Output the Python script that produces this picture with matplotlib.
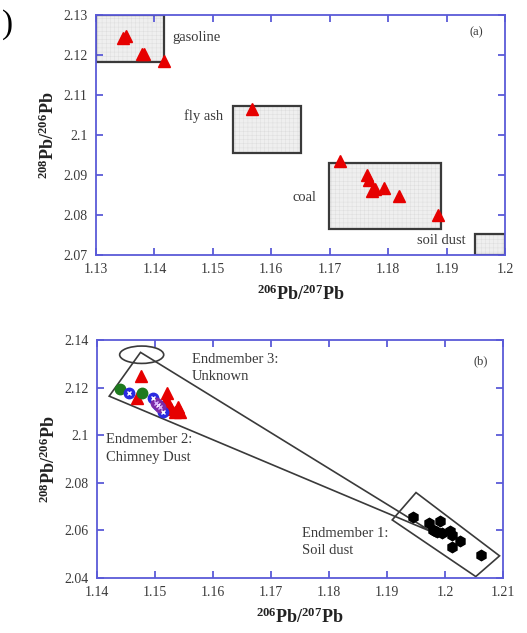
import matplotlib.pyplot as plt
from matplotlib.patches import Rectangle, Polygon, Ellipse
import numpy as np

plt.rcParams['font.family'] = ['Liberation Serif', 'DejaVu Serif']
plt.rcParams['mathtext.fontset'] = 'custom'
plt.rcParams['mathtext.rm'] = 'Liberation Serif'
plt.rcParams['mathtext.bf'] = 'Liberation Serif:bold'
plt.rcParams['hatch.linewidth'] = 0.35

# ---- panel (a): source signatures ----
a_x = [1.1347, 1.1352, 1.1378, 1.1382, 1.1417, 1.1567,
       1.1718, 1.1763, 1.1768, 1.1772, 1.1777, 1.1793, 1.1819, 1.1885]
a_y = [2.1242, 2.1248, 2.1202, 2.1202, 2.1186, 2.1064,
       2.0935, 2.0900, 2.0888, 2.0861, 2.0864, 2.0867, 2.0848, 2.0800]

# source boxes: name, (x0, x1), (y0, y1)
box_names = ['gasoline', 'fly ash', 'coal', 'soil dust']
box_x = [(1.1300, 1.1416), (1.1534, 1.1650), (1.1699, 1.1890), (1.1948, 1.2000)]
box_y = [(2.1183, 2.1300), (2.0954, 2.1073), (2.0766, 2.0931), (2.0700, 2.0752)]

# ---- panel (b): samples ----
green_x = [1.1440, 1.1477]
green_y = [2.1192, 2.1176]
blue_x = [1.1455, 1.1496, 1.1505, 1.1513]
blue_y = [2.1178, 2.1155, 2.1127, 2.1098]
purple_x = [1.1502, 1.1509]
purple_y = [2.1134, 2.1120]
red_x = [1.1475, 1.1469, 1.1520, 1.1519, 1.1523, 1.1528, 1.1540, 1.1543, 1.1534]
red_y = [2.1249, 2.1155, 2.1176, 2.1148, 2.1134, 2.1108, 2.1117, 2.1098, 2.1098]
black_x = [1.1945, 1.1972, 1.1991, 1.1979, 1.1987, 1.1995, 1.2009, 1.2012,
           1.2025, 1.2012, 1.2062, 1.1983]
black_y = [2.0657, 2.0632, 2.0640, 2.0603, 2.0594, 2.0587, 2.0598, 2.0580,
           2.0556, 2.0530, 2.0495, 2.0596]

mixing_tri = [(1.1475, 2.1348), (1.1421, 2.1164), (1.1977, 2.0594)]
soil_rect = [(1.1950, 2.0759), (1.2094, 2.0493), (1.2053, 2.0406), (1.1909, 2.0644)]
em3_center = (1.1477, 2.1338)
em3_size = (0.0076, 0.0073)

spine_col = '#5a5ad8'
txt_col = '#3a3a3a'
edge_col = '#3a3a3a'


def style_axes(ax):
    for s in ax.spines.values():
        s.set_color(spine_col)
        s.set_linewidth(1.3)
    ax.tick_params(direction='in', top=True, right=True, length=5, width=1.3,
                   color=spine_col, labelcolor=txt_col, labelsize=10, pad=6)
    ax.set_xlabel(r'$\mathbf{^{206}Pb/^{207}Pb}$', fontsize=13, color='#222222', labelpad=6)
    ax.set_ylabel(r'$\mathbf{^{208}Pb/^{206}Pb}$', fontsize=13, color='#222222', labelpad=4)


fig = plt.figure(figsize=(5.27, 6.33), dpi=100)
fig.text(0.004, 0.985, ')', fontsize=24, va='top', ha='left')

ax1 = fig.add_axes([0.1822, 0.5972, 0.7761, 0.3791])
ax1.set_xlim(1.13, 1.2)
ax1.set_ylim(2.07, 2.13)
ax1.set_xticks(np.arange(1.13, 1.2001, 0.01))
ax1.set_yticks(np.arange(2.07, 2.1301, 0.01))
ax1.set_xticklabels(['1.13', '1.14', '1.15', '1.16', '1.17', '1.18', '1.19', '1.2'])
ax1.set_yticklabels(['2.07', '2.08', '2.09', '2.1', '2.11', '2.12', '2.13'])

for (x0, x1), (y0, y1) in zip(box_x, box_y):
    ax1.add_patch(Rectangle((x0, y0), x1 - x0, y1 - y0, facecolor='#efefef',
                            edgecolor='#dedede', hatch='++++', linewidth=0, zorder=1))
    ax1.add_patch(Rectangle((x0, y0), x1 - x0, y1 - y0, facecolor='none',
                            edgecolor=edge_col, linewidth=1.6, zorder=2))

ax1.plot(a_x, a_y, linestyle='none', marker='^', color='#e60000', markersize=8, zorder=4)

ax1.text(1.1431, 2.1244, 'gasoline', fontsize=10.5, color=txt_col, va='center', ha='left')
ax1.text(1.1517, 2.1047, 'fly ash', fontsize=10.5, color=txt_col, va='center', ha='right')
ax1.text(1.1678, 2.0844, 'coal', fontsize=10.5, color=txt_col, va='center', ha='right')
ax1.text(1.1932, 2.0736, 'soil dust', fontsize=10.5, color=txt_col, va='center', ha='right')
ax1.text(1.194, 2.1257, '(a)', fontsize=9, color=txt_col, va='center', ha='left')
style_axes(ax1)

ax2 = fig.add_axes([0.1841, 0.0869, 0.7704, 0.3760])
ax2.set_xlim(1.14, 1.21)
ax2.set_ylim(2.04, 2.14)
ax2.set_xticks(np.arange(1.14, 1.2101, 0.01))
ax2.set_yticks(np.arange(2.04, 2.1401, 0.02))
ax2.set_xticklabels(['1.14', '1.15', '1.16', '1.17', '1.18', '1.19', '1.2', '1.21'])
ax2.set_yticklabels(['2.04', '2.06', '2.08', '2.1', '2.12', '2.14'])

ax2.add_patch(Polygon(mixing_tri, closed=True, facecolor='none', edgecolor=edge_col,
                      linewidth=1.2, zorder=2))
ax2.add_patch(Polygon(soil_rect, closed=True, facecolor='none', edgecolor=edge_col,
                      linewidth=1.2, zorder=2))
ax2.add_patch(Ellipse(em3_center, em3_size[0], em3_size[1], facecolor='none',
                      edgecolor=edge_col, linewidth=1.2, zorder=2))

ax2.plot(red_x, red_y, linestyle='none', marker='^', color='#e60000', markersize=8, zorder=4)
ax2.plot(green_x, green_y, linestyle='none', marker='o', color='#1e7a1e', markersize=7.5, zorder=5)
ax2.plot(blue_x, blue_y, linestyle='none', marker='o', color='#2a2ae0', markersize=7.5, zorder=5)
ax2.plot(blue_x, blue_y, linestyle='none', marker='x', color='white', markersize=3.5,
         markeredgewidth=1, zorder=6)
ax2.plot(purple_x, purple_y, linestyle='none', marker='o', color='#7a2aa8', markersize=7.5, zorder=5)
ax2.plot(purple_x, purple_y, linestyle='none', marker='x', color='#d9b3ff', markersize=3.5,
         markeredgewidth=1, zorder=6)
ax2.plot(black_x, black_y, linestyle='none', marker='h', color='black', markersize=7.5, zorder=5)

ax2.text(1.1563, 2.1282, 'Endmember 3:\nUnknown', fontsize=10.5, color=txt_col,
         va='center', ha='left', linespacing=1.45)
ax2.text(1.1415, 2.0945, 'Endmember 2:\nChimney Dust', fontsize=10.5, color=txt_col,
         va='center', ha='left', linespacing=1.45)
ax2.text(1.1753, 2.0552, 'Endmember 1:\nSoil dust', fontsize=10.5, color=txt_col,
         va='center', ha='left', linespacing=1.45)
ax2.text(1.2049, 2.1309, '(b)', fontsize=9, color=txt_col, va='center', ha='left')
style_axes(ax2)

fig.savefig('out.png', dpi=100)
